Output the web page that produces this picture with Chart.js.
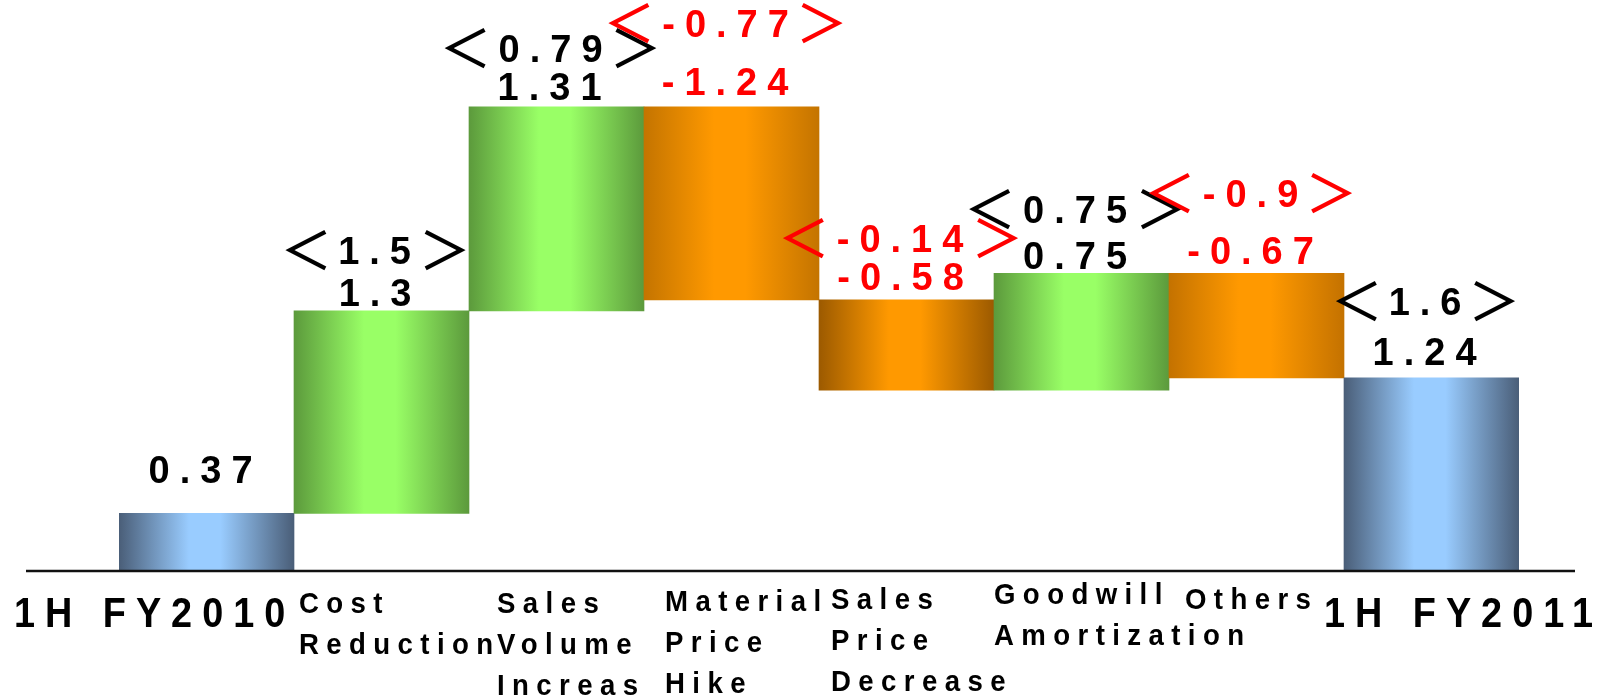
<!DOCTYPE html>
<html>
<head>
<meta charset="utf-8">
<script src="https://cdn.jsdelivr.net/npm/chart.js@4.4.1/dist/chart.umd.min.js"></script>
<style>
  html, body { margin: 0; padding: 0; background: #ffffff; }
  #wrap { width: 1599px; height: 697px; position: relative; }
</style>
</head>
<body>
<div id="wrap"><canvas id="bridge"></canvas></div>
<script>
// Operating income bridge, 1H FY2010 -> 1H FY2011
const categories = [
  ['1H FY2010'],
  ['Cost', 'Reduction'],
  ['Sales', 'Volume', 'Increas'],
  ['Material', 'Price', 'Hike'],
  ['Sales', 'Price', 'Decrease'],
  ['Goodwill', 'Amortization'],
  ['Others'],
  ['1H FY2011']
];
const changes = [0.37, 1.3, 1.31, -1.24, -0.58, 0.75, -0.67, 1.24];
const isTotal = [true, false, false, false, false, false, false, true];
// figures shown in angle brackets above each step
const bracketValues = ['', '1.5', '0.79', '-0.77', '-0.14', '0.75', '-0.9', '1.6'];

// floating [start, end] ranges built from the steps
let running = 0;
const ranges = changes.map((v, i) => {
  if (isTotal[i]) { running = v; return [0, v]; }
  const start = running;
  running = Math.round((running + v) * 100) / 100;
  return [start, running];
});

// ---- styling ----
const EDGE_BLUE = '#4a5e78', LIGHT_BLUE = '#99ccff';
const EDGE_GREEN = '#5c9a3c', LIGHT_GREEN = '#99ff66';
const LIGHT_ORANGE = '#ff9900';
const edgeColors = [EDGE_BLUE, EDGE_GREEN, EDGE_GREEN, '#c47400', '#9c5a00', EDGE_GREEN, '#c47200', EDGE_BLUE];
const lightColors = [LIGHT_BLUE, LIGHT_GREEN, LIGHT_GREEN, LIGHT_ORANGE, LIGHT_ORANGE, LIGHT_GREEN, LIGHT_ORANGE, LIGHT_BLUE];

// label layout (pixels)
const valueGap = [30, 5, 7, 12, 10, 4, 9, 13];        // value label baseline above bar top
const bracketGap = [0, 42, 38, 58, 38, 46, 57, 50];   // bracket label above value label
const catDx = [-105, 5, 28, 21, 12, 0, 16, -20];      // category text start from bar left edge
const catDy = [56, 42, 42, 40, 38, 33, 38, 56];       // first line baseline below axis line

const DIGIT_FONT = "bold 38px 'Liberation Sans', Arial, sans-serif";
const DIGIT_SPACING = 10;
const BRACKET_FONT = "500 52px 'Noto Sans CJK JP', sans-serif";
const BRACKET_GAP = 13;
const CAT_FONT = "bold 30px 'Liberation Sans', Arial, sans-serif";
const CAT_SQUEEZE = 0.92, CAT_SPACING = 7.4;
const TOTAL_FONT = "bold 42px 'Liberation Sans', Arial, sans-serif";
const TOTAL_SQUEEZE = 0.9, TOTAL_SPACING = 10;

function barGradient(c) {
  const chart = c.chart;
  const i = c.dataIndex;
  if (!chart.chartArea || !chart.scales.x) return lightColors[i];
  const x = chart.scales.x;
  const half = x.width / categories.length / 2;
  const cx = x.getPixelForValue(i);
  const g = chart.ctx.createLinearGradient(cx - half, 0, cx + half, 0);
  g.addColorStop(0, edgeColors[i]);
  g.addColorStop(0.4, lightColors[i]);
  g.addColorStop(0.58, lightColors[i]);
  g.addColorStop(1, edgeColors[i]);
  return g;
}

// draws number text (optionally wrapped in angle brackets) centred on cx by ink extent
function drawFigure(ctx, text, bracketed, cx, baseline) {
  ctx.save();
  ctx.textAlign = 'left';
  ctx.textBaseline = 'alphabetic';
  ctx.font = DIGIT_FONT;
  ctx.letterSpacing = DIGIT_SPACING + 'px';
  const capH = ctx.measureText('0').actualBoundingBoxAscent;
  const parts = [];
  const mNum = ctx.measureText(text);
  const numPart = { text, font: DIGIT_FONT, spacing: DIGIT_SPACING, m: mNum, dy: 0 };
  if (bracketed) {
    ctx.font = BRACKET_FONT; ctx.letterSpacing = '0px';
    ['＜', '＞'].forEach(b => {
      const m = ctx.measureText(b);
      const dy = -capH / 2 + (m.actualBoundingBoxAscent - m.actualBoundingBoxDescent) / 2;
      parts.push({ text: b, font: BRACKET_FONT, spacing: 0, m, dy });
    });
    parts.splice(1, 0, numPart);
  } else {
    parts.push(numPart);
  }
  const inkW = p => p.m.actualBoundingBoxLeft + p.m.actualBoundingBoxRight;
  const total = parts.reduce((s, p) => s + inkW(p), 0) + BRACKET_GAP * (parts.length - 1);
  let cursor = cx - 6 - total / 2;
  parts.forEach(p => {
    ctx.font = p.font;
    ctx.letterSpacing = p.spacing + 'px';
    ctx.fillText(p.text, cursor + p.m.actualBoundingBoxLeft, baseline + p.dy);
    cursor += inkW(p) + BRACKET_GAP;
  });
  ctx.restore();
}

const bridgeLabels = {
  id: 'bridgeLabels',
  afterDatasetsDraw(chart) {
    const ctx = chart.ctx;
    const xs = chart.scales.x, ys = chart.scales.y;
    const band = xs.width / categories.length;
    const zeroY = ys.getPixelForValue(0);

    // axis line
    ctx.save();
    ctx.strokeStyle = '#111111';
    ctx.lineWidth = 2.5;
    ctx.beginPath();
    ctx.moveTo(26, zeroY);
    ctx.lineTo(1575, zeroY);
    ctx.stroke();
    ctx.restore();

    changes.forEach((v, i) => {
      const cx = xs.getPixelForValue(i);
      const top = ys.getPixelForValue(Math.max(ranges[i][0], ranges[i][1]));
      ctx.fillStyle = v < 0 ? '#ff0000' : '#000000';
      const vy = top - valueGap[i];
      drawFigure(ctx, String(v), false, cx, vy);
      if (bracketValues[i]) {
        ctx.fillStyle = bracketValues[i].startsWith('-') ? '#ff0000' : '#000000';
        drawFigure(ctx, bracketValues[i], true, cx, vy - bracketGap[i]);
      }

      // category text, squeezed horizontally
      const squeeze = isTotal[i] ? TOTAL_SQUEEZE : CAT_SQUEEZE;
      ctx.save();
      ctx.fillStyle = '#000000';
      ctx.textAlign = 'left';
      ctx.textBaseline = 'alphabetic';
      ctx.font = isTotal[i] ? TOTAL_FONT : CAT_FONT;
      ctx.letterSpacing = ((isTotal[i] ? TOTAL_SPACING : CAT_SPACING) / squeeze) + 'px';
      const left = cx - band / 2 + catDx[i];
      categories[i].forEach((line, k) => {
        ctx.save();
        ctx.translate(left, zeroY + catDy[i] + k * 41);
        ctx.scale(squeeze, 1);
        ctx.fillText(line, 0, 0);
        ctx.restore();
      });
      ctx.restore();
    });
  }
};

new Chart(document.getElementById('bridge'), {
  type: 'bar',
  data: {
    labels: categories.map(c => c.join(' ')),
    datasets: [{
      data: ranges,
      backgroundColor: barGradient,
      borderWidth: 0,
      borderSkipped: false,
      barPercentage: 1,
      categoryPercentage: 1
    }]
  },
  options: {
    responsive: true,
    maintainAspectRatio: false,
    animation: false,
    layout: { padding: { left: 119, right: 80, top: 0, bottom: 126 } },
    plugins: { legend: { display: false }, tooltip: { enabled: false } },
    scales: {
      x: { display: false },
      y: { display: false, min: 0, max: 3.665 }
    }
  },
  plugins: [bridgeLabels]
});
</script>
</body>
</html>
